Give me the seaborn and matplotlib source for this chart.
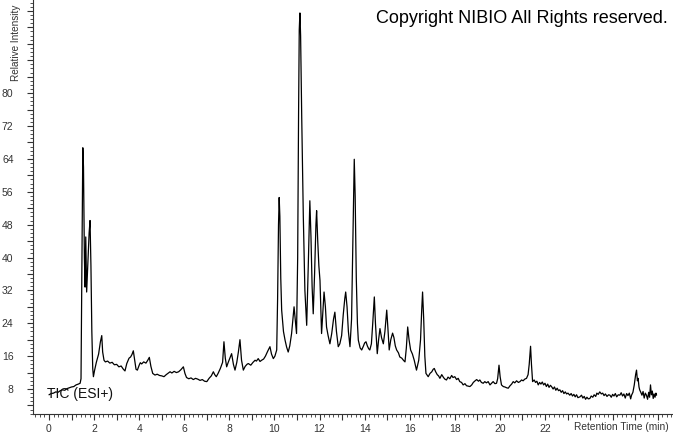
import matplotlib
matplotlib.use("Agg")
import matplotlib.pyplot as plt
from matplotlib.ticker import MultipleLocator, FuncFormatter
import seaborn as sns
import pandas as pd

# Retention time (min)
time_min = [
    0.0, 0.1, 0.2, 0.3, 0.4, 0.5, 0.6, 0.7, 0.8, 0.9,
    1.0, 1.1, 1.2, 1.3, 1.38, 1.42, 1.46, 1.50, 1.53, 1.57,
    1.6, 1.63, 1.67, 1.72, 1.78, 1.82, 1.86, 1.9, 1.94, 1.97,
    2.02, 2.1, 2.2, 2.28, 2.34, 2.38, 2.44, 2.5, 2.6, 2.7,
    2.8, 2.9, 3.0, 3.1, 3.2, 3.3, 3.37, 3.45, 3.55, 3.62,
    3.68, 3.74, 3.8, 3.86, 3.92, 4.0, 4.05, 4.11, 4.2, 4.3,
    4.38, 4.45, 4.52, 4.6, 4.7, 4.8, 4.9, 5.0, 5.1, 5.2,
    5.3, 5.37, 5.45, 5.55, 5.65, 5.75, 5.85, 5.96, 6.03, 6.1,
    6.2, 6.3, 6.4, 6.5, 6.6, 6.7, 6.8, 6.9, 7.0, 7.1,
    7.2, 7.29, 7.35, 7.42, 7.5, 7.6, 7.7, 7.76, 7.82, 7.88,
    7.95, 8.02, 8.1, 8.18, 8.25, 8.33, 8.4, 8.47, 8.54, 8.62,
    8.7, 8.78, 8.84, 8.95, 9.05, 9.14, 9.2, 9.28, 9.36, 9.43,
    9.52, 9.6, 9.7, 9.8, 9.87, 9.95, 10.02, 10.1, 10.14, 10.18,
    10.21, 10.24, 10.28, 10.32, 10.4, 10.47, 10.54, 10.61, 10.68, 10.76,
    10.82, 10.87, 10.92, 10.98, 11.03, 11.07, 11.1, 11.13, 11.16, 11.21,
    11.28, 11.35, 11.43, 11.5, 11.57, 11.62, 11.67, 11.72, 11.78, 11.84,
    11.87, 11.92, 11.97, 12.02, 12.09, 12.15, 12.2, 12.26, 12.31, 12.38,
    12.46, 12.54, 12.62, 12.68, 12.75, 12.83, 12.9, 12.98, 13.05, 13.12,
    13.16, 13.22, 13.28, 13.35, 13.42, 13.48, 13.54, 13.58, 13.63, 13.68,
    13.72, 13.8, 13.87, 13.95, 14.0, 14.06, 14.12, 14.18, 14.23, 14.3,
    14.36, 14.43, 14.48, 14.56, 14.62, 14.68, 14.75, 14.83, 14.9, 14.98,
    15.03, 15.09, 15.16, 15.24, 15.3, 15.36, 15.42, 15.5, 15.56, 15.65,
    15.72, 15.79, 15.85, 15.91, 15.97, 16.04, 16.12, 16.2, 16.3, 16.4,
    16.48, 16.53, 16.57, 16.62, 16.67, 16.72, 16.82, 16.9, 16.98, 17.04,
    17.09, 17.15, 17.22, 17.28, 17.34, 17.42, 17.5, 17.56, 17.63, 17.7,
    17.78, 17.86, 17.92, 18.0, 18.08, 18.15, 18.22, 18.3, 18.37, 18.45,
    18.52, 18.6, 18.67, 18.75, 18.82, 18.9, 18.97, 19.05, 19.11, 19.18,
    19.26, 19.33, 19.4, 19.48, 19.56, 19.63, 19.7, 19.78, 19.85, 19.9,
    19.96, 20.01, 20.07, 20.15, 20.22, 20.3, 20.37, 20.45, 20.52, 20.59,
    20.66, 20.74, 20.82, 20.89, 20.96, 21.03, 21.1, 21.18, 21.25, 21.3,
    21.36, 21.4, 21.45, 21.52, 21.58, 21.64, 21.7, 21.76, 21.82, 21.88,
    21.94, 22.0, 22.06, 22.12, 22.18, 22.24, 22.29, 22.36, 22.42, 22.48,
    22.54, 22.6, 22.66, 22.72, 22.78, 22.84, 22.9, 22.96, 23.02, 23.1,
    23.16, 23.22, 23.28, 23.34, 23.4, 23.46, 23.55, 23.62, 23.68, 23.74,
    23.8, 23.86, 23.92, 23.99, 24.05, 24.12, 24.18, 24.25, 24.3, 24.36,
    24.43, 24.5, 24.56, 24.62, 24.68, 24.75, 24.82, 24.88, 24.94, 25.0,
    25.06, 25.12, 25.18, 25.25, 25.32, 25.38, 25.44, 25.5, 25.56, 25.62,
    25.68, 25.74, 25.8, 25.84, 25.9, 25.96, 26.02, 26.06, 26.1, 26.13,
    26.17, 26.2, 26.25, 26.3, 26.35, 26.4, 26.45, 26.5, 26.55, 26.6,
    26.64, 26.68, 26.72, 26.76, 26.8, 26.84, 26.88, 26.92, 26.95,
]

# Relative intensity (TIC, ESI+)
intensity = [
    6.6, 6.9, 7.0, 7.3, 7.2, 7.6, 7.8, 7.7, 8.1, 8.3,
    8.5, 8.6, 9.0, 9.2, 9.4, 10.5, 40, 66.7, 62, 40,
    32.8, 45, 31.6, 38, 46, 49, 38, 22, 13, 11,
    12.5, 14.5, 16.5, 19.5, 21, 17, 15, 14.6, 14.8, 14.3,
    14.5, 13.9, 14.0, 13.4, 13.6, 12.8, 12.4, 14.2, 15.5, 15.8,
    16.4, 17.3, 15.0, 12.8, 12.6, 13.8, 14.4, 14.1, 14.6, 14.3,
    15.0, 15.7, 13.5, 11.8, 11.4, 11.6, 11.3, 11.2, 11.0, 11.5,
    11.9, 12.2, 11.9, 12.3, 12.0, 12.2, 12.7, 13.4, 11.8, 10.8,
    10.5, 10.7, 10.3, 10.6, 10.4, 10.1, 10.3, 9.9, 9.8, 10.6,
    11.2, 12.2, 11.5, 11.0, 11.8, 13.0, 14.5, 19.5, 15.5, 13.4,
    14.5, 15.5, 16.6, 14.0, 12.6, 14.5, 17, 20, 15, 12.6,
    13.5, 14.0, 14.2, 13.8, 14.5, 15.0, 14.8, 15.4, 14.7, 15.0,
    15.3, 16.0, 17.2, 18.3, 16.5, 15.4, 16.0, 17.5, 30, 48,
    54.6, 50, 35, 27.2, 22, 19.9, 18.2, 17.0, 18.5, 21.5,
    25, 28, 25, 21.5, 40, 75, 95.4, 99.5, 94, 74,
    50, 32, 23.5, 38, 53.8, 45, 33, 26.3, 36, 48,
    51.4, 44, 38, 34.4, 21.5, 27, 31.6, 28, 23.1, 21,
    19.0, 21.5, 25, 26.7, 22, 18.3, 19, 21, 26, 30,
    31.6, 28, 22, 18.3, 25, 45, 63.9, 55, 35, 24,
    19.9, 18.0, 17.5, 18.5, 19.2, 19.5, 18.5, 17.8, 17.5, 19,
    24, 30.4, 24, 16.6, 20, 22.7, 20.5, 19.0, 22, 27.2,
    23, 17.5, 20, 21.6, 20.5, 18.5, 17.5, 16.8, 15.8, 15.5,
    15.0, 14.6, 18, 23.1, 20, 17.5, 16.5, 15.0, 12.6, 15,
    20, 27, 31.6, 25, 16, 11.8, 11.0, 11.8, 12.2, 12.8,
    13.0, 12.2, 11.5, 11.2, 10.6, 11.5, 10.8, 10.4, 10.2, 10.9,
    10.5, 11.3, 10.8, 11.0, 10.3, 10.6, 9.8, 9.6, 9.0, 9.3,
    8.8, 8.7, 8.6, 9.0, 9.6, 10.0, 10.3, 9.9, 10.2, 9.6,
    9.4, 9.8, 9.5, 9.8, 9.0, 9.4, 9.8, 9.3, 9.4, 10.5,
    13.8, 11.0, 9.0, 8.6, 8.5, 8.3, 8.2, 8.8, 9.2, 9.8,
    9.5, 10.0, 9.6, 9.8, 10.2, 10.0, 10.4, 10.6, 11.5, 14,
    18.4, 14, 9.8, 10.2, 9.6, 9.9, 9.0, 9.6, 9.2, 9.7,
    9.0, 9.4, 8.6, 9.2, 8.4, 8.9, 8.6, 8.0, 8.5, 7.7,
    8.2, 7.6, 7.8, 7.2, 7.6, 6.9, 7.3, 6.8, 7.0, 6.5,
    6.9, 6.3, 6.7, 6.1, 6.6, 5.9, 6.1, 6.5, 5.8, 6.2,
    5.5, 6.0, 5.6, 5.7, 6.3, 6.0, 6.6, 6.2, 7.0, 6.7,
    7.3, 6.8, 7.0, 6.4, 6.8, 6.2, 6.6, 6.5, 6.0, 6.7,
    6.3, 6.9, 6.1, 6.6, 6.5, 7.1, 6.3, 6.8, 5.8, 6.9,
    6.4, 7.0, 5.6, 6.5, 7.2, 9.0, 11.5, 12.6, 10.0, 10.6,
    8.5, 7.8, 7.2, 6.5, 7.4, 5.8, 7.0, 6.5, 5.5, 7.2,
    6.0, 9.0, 6.6, 7.5, 5.7, 6.8, 6.0, 7.0, 6.5,
]

x_label_ticks = [0, 2, 4, 6, 8, 10, 12, 14, 16, 18, 20, 22]
y_label_ticks = [8, 16, 24, 32, 40, 48, 56, 64, 72, 80]

assert len(time_min) == len(intensity)
df = pd.DataFrame({"time": time_min, "intensity": intensity})

sns.set_theme(style="ticks")
plt.rcParams["font.family"] = ["Liberation Sans", "DejaVu Sans"]

W, H = 673, 433
fig = plt.figure(figsize=(W / 100, H / 100), dpi=100)
fig.patch.set_facecolor("white")
left_px, bottom_px = 33, 414
ax = fig.add_axes([left_px / W, (H - bottom_px) / H, (W - left_px) / W, bottom_px / H])
ax.set_facecolor("white")

sns.lineplot(data=df, x="time", y="intensity", ax=ax, color="black",
             linewidth=0.9, estimator=None, sort=False)

px_per_min = 22.545
px_per_unit = 4.11
x0_px = 49
y0_px = 421.9
ax.set_xlim((left_px - x0_px) / px_per_min, (W - x0_px) / px_per_min)
ax.set_ylim((y0_px - bottom_px) / px_per_unit, y0_px / px_per_unit)

ax.xaxis.set_major_locator(MultipleLocator(1))
ax.xaxis.set_minor_locator(MultipleLocator(0.2))
ax.yaxis.set_major_locator(MultipleLocator(4))
ax.yaxis.set_minor_locator(MultipleLocator(1))
ax.xaxis.set_major_formatter(FuncFormatter(
    lambda v, p: f"{int(round(v))}" if any(abs(v - t) < 1e-6 for t in x_label_ticks) else ""))
ax.yaxis.set_major_formatter(FuncFormatter(
    lambda v, p: f"{int(round(v))}" if any(abs(v - t) < 1e-6 for t in y_label_ticks) else ""))

ax.tick_params(axis="both", which="major", length=4, width=0.8, color="#333333",
               labelsize=7.5, labelcolor="#333333")
ax.tick_params(axis="both", which="minor", length=2, width=0.6, color="#333333")
ax.tick_params(axis="y", which="major", pad=10)
ax.tick_params(axis="x", which="major", pad=3)

sns.despine(ax=ax, top=True, right=True)
for s in ("left", "bottom"):
    ax.spines[s].set_color("#333333")
    ax.spines[s].set_linewidth(0.8)
ax.set_xlabel("")
ax.set_ylabel("")

fig.text(16 / W, 1 - 81 / H, "Relative Intensity", rotation=90, ha="center",
         va="bottom", fontsize=7.2, color="#333333")
fig.text(669 / W, 1 - 430 / H, "Retention Time (min)", ha="right", va="baseline",
         fontsize=7.3, color="#333333")
fig.text(376 / W, 1 - 23 / H, "Copyright NIBIO All Rights reserved.", ha="left",
         va="baseline", fontsize=13, color="black")
fig.text(47 / W, 1 - 398 / H, "TIC (ESI+)", ha="left", va="baseline",
         fontsize=10, color="#111111")

fig.savefig("out.png", dpi=100, facecolor="white")
